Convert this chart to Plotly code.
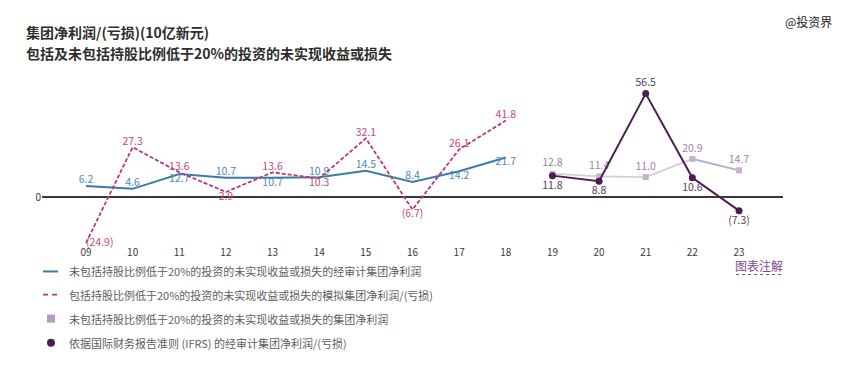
import plotly.graph_objects as go

# ---------------- data ----------------
years_a = [9, 10, 11, 12, 13, 14, 15, 16, 17, 18]
excl_audited = [6.2, 4.6, 12.7, 10.7, 10.7, 10.9, 14.5, 8.4, 14.2, 21.7]
incl_proforma = [-24.9, 27.3, 13.6, 2.9, 13.6, 10.3, 32.1, -6.7, 26.1, 41.8]

years_b = [19, 20, 21, 22, 23]
excl_group = [12.8, 11.4, 11.0, 20.9, 14.7]
ifrs_audited = [11.8, 8.8, 56.5, 10.6, -7.3]

tick_years = list(range(9, 24))
tick_labels = ["09", "10", "11", "12", "13", "14", "15", "16", "17", "18",
               "19", "20", "21", "22", "23"]

excl_audited_pos = ["top center", "top center", "bottom center", "top center", "bottom center",
                    "top center", "top center", "top center", "bottom center", "bottom center"]
incl_proforma_pos = ["middle right", "top center", "top center", "bottom center", "top center",
                     "bottom center", "top center", "bottom center", "top center", "top center"]
excl_group_pos = ["top center"] * 5
ifrs_pos = ["bottom center", "bottom center", "top center", "bottom center", "bottom center"]

legend_labels = [
    "未包括持股比例低于20%的投资的未实现收益或损失的经审计集团净利润",
    "包括持股比例低于20%的投资的未实现收益或损失的模拟集团净利润/(亏损)",
    "未包括持股比例低于20%的投资的未实现收益或损失的集团净利润",
    "依据国际财务报告准则 (IFRS) 的经审计集团净利润/(亏损)",
]
title_lines = ["集团净利润/(亏损)(10亿新元)", "包括及未包括持股比例低于20%的投资的未实现收益或损失"]


def fmt(v):
    return f"({abs(v):.1f})" if v < 0 else f"{v:.1f}"


# ---------------- style ----------------
FONT = "Noto Sans CJK SC"
BLUE = "#3A7BA8"
BLUE_TXT = "#4A8BB8"
PINK = "#B83A6E"
PINK_TXT = "#C2487C"
LAV_LINE = "#D8CADD"
LAV_MK = "#C6B1CD"
LAV_TXT = "#9C84A6"
SEG = "#A7B8CA"
DARK = "#4A1E50"
DARK_TXT = "#5A3A62"

# page body has an 8px margin: figure origin sits at (8, 8) of the window
OFF = 8
W, H = 865 - OFF, 365 - OFF
PLOT_LEFT, PLOT_RIGHT, PLOT_TOP, PLOT_BOTTOM = 42, 783, 87, 244.6  # window pixels
L = PLOT_LEFT - OFF
R = W - (PLOT_RIGHT - OFF)
T = PLOT_TOP - OFF
B = H - (PLOT_BOTTOM - OFF)
plot_h = PLOT_BOTTOM - PLOT_TOP
plot_w = PLOT_RIGHT - PLOT_LEFT


def py(y):
    return (PLOT_BOTTOM - y) / plot_h


def px(x):
    return (x - PLOT_LEFT) / plot_w


fig = go.Figure()

lab_font = dict(family=FONT, size=10.5)

fig.add_trace(go.Scatter(
    x=years_a, y=excl_audited, mode="lines+text",
    line=dict(color=BLUE, width=2),
    text=[fmt(v) for v in excl_audited], textposition=excl_audited_pos,
    textfont=dict(lab_font, color=BLUE_TXT), showlegend=False, cliponaxis=False))

fig.add_trace(go.Scatter(
    x=years_a, y=incl_proforma, mode="lines+text",
    line=dict(color=PINK, width=1.8, dash="4px,2px"),
    text=[fmt(v) for v in incl_proforma], textposition=incl_proforma_pos,
    textfont=dict(lab_font, color=PINK_TXT), showlegend=False, cliponaxis=False))

fig.add_trace(go.Scatter(
    x=years_b, y=excl_group, mode="lines",
    line=dict(color=LAV_LINE, width=1.6), showlegend=False, cliponaxis=False))

fig.add_trace(go.Scatter(
    x=years_b[-2:], y=excl_group[-2:], mode="lines",
    line=dict(color=SEG, width=1.8), showlegend=False, cliponaxis=False))

fig.add_trace(go.Scatter(
    x=years_b, y=excl_group, mode="markers+text",
    marker=dict(symbol="square", size=6, color=LAV_MK),
    text=[fmt(v) for v in excl_group], textposition=excl_group_pos,
    textfont=dict(lab_font, color=LAV_TXT), showlegend=False, cliponaxis=False))

fig.add_trace(go.Scatter(
    x=years_b, y=ifrs_audited, mode="lines+markers+text",
    line=dict(color=DARK, width=2),
    marker=dict(symbol="circle", size=7, color=DARK),
    text=[fmt(v) for v in ifrs_audited], textposition=ifrs_pos,
    textfont=dict(lab_font, color=DARK_TXT), showlegend=False, cliponaxis=False))

# ---------------- titles ----------------
for line, ypix in zip(title_lines, [32, 53]):
    fig.add_annotation(text=f"<b>{line}</b>", xref="paper", yref="paper",
                       x=px(24), y=py(ypix), xanchor="left", yanchor="middle",
                       showarrow=False, font=dict(family=FONT, size=14, color="#2E2E2E"))

fig.add_annotation(text="@投资界", xref="paper", yref="paper", x=px(808), y=py(22),
                   xanchor="center", yanchor="middle", showarrow=False,
                   font=dict(family=FONT, size=12, color="#222222"))

# ---------------- legend (custom) ----------------
leg_y = [271, 294, 318, 342]
for lab, ypix in zip(legend_labels, leg_y):
    fig.add_annotation(text=lab, xref="paper", yref="paper", x=px(67), y=py(ypix),
                       xanchor="left", yanchor="middle", showarrow=False,
                       font=dict(family=FONT, size=11, color="#5E5E5E"))

fig.add_shape(type="line", xref="paper", yref="paper", x0=px(43), x1=px(58),
              y0=py(leg_y[0]), y1=py(leg_y[0]), line=dict(color=BLUE, width=2))
fig.add_shape(type="line", xref="paper", yref="paper", x0=px(43), x1=px(58),
              y0=py(leg_y[1]), y1=py(leg_y[1]), line=dict(color=PINK, width=1.8, dash="5px,4px"))
fig.add_shape(type="rect", xref="paper", yref="paper", x0=px(47), x1=px(55),
              y0=py(leg_y[2] + 4), y1=py(leg_y[2] - 4), line=dict(width=0), fillcolor="#B49CBE")
fig.add_shape(type="circle", xref="paper", yref="paper", x0=px(47), x1=px(55),
              y0=py(leg_y[3] + 4), y1=py(leg_y[3] - 4), line=dict(width=0), fillcolor=DARK)

fig.add_annotation(text="图表注解", xref="paper", yref="paper", x=px(759), y=py(265),
                   xanchor="center", yanchor="middle", showarrow=False,
                   font=dict(family=FONT, size=12, color="#7B4E8E"))
fig.add_shape(type="line", xref="paper", yref="paper", x0=px(736), x1=px(782),
              y0=py(274), y1=py(274), line=dict(color="#7B4E8E", width=1, dash="dot"))

# ---------------- axes ----------------
ymin, ymax = -26, 60.1
fig.update_xaxes(range=[8.057, 23.943], tickvals=tick_years, ticktext=tick_labels,
                 showgrid=False, zeroline=False, showline=False, ticks="",
                 tickfont=dict(family=FONT, size=10, color="#3A3A3A"), fixedrange=True)
fig.update_yaxes(range=[ymin, ymax], tickvals=[0], ticktext=["0"], showgrid=False,
                 zeroline=True, zerolinecolor="#3A3A3A", zerolinewidth=1.5,
                 showline=False, ticks="", tickfont=dict(family=FONT, size=10, color="#3A3A3A"),
                 fixedrange=True)

fig.update_layout(width=W, height=H, margin=dict(l=L, r=R, t=T, b=B),
                  paper_bgcolor="white", plot_bgcolor="white", showlegend=False,
                  font=dict(family=FONT))

fig.write_html("out.html")
